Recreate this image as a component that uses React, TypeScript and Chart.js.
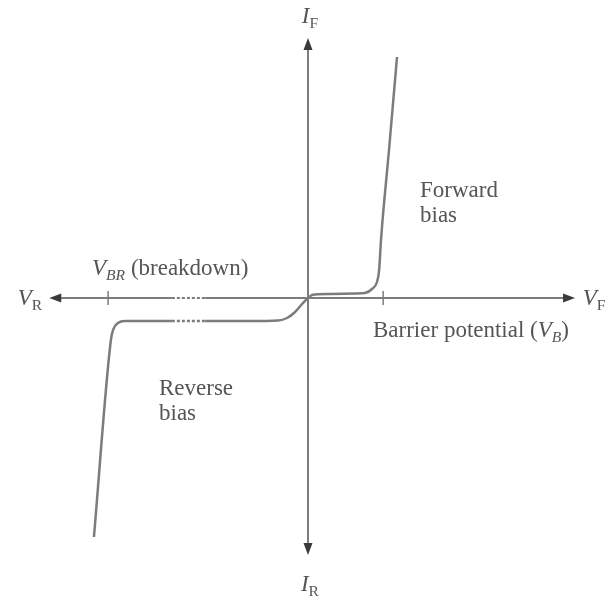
import React, { useEffect, useRef } from "react";
import { Chart, registerables } from "chart.js";
Chart.register(...registerables);

// Forward-bias branch (V_F, I_F) in arbitrary units
const forwardV = [0, 0.13, 0.71, 1.53, 1.85, 2.08, 2.24, 2.31, 2.37, 2.63, 2.89];
const forwardI = [0, 0.3, 0.4, 0.45, 0.5, 0.9, 1.6, 2.8, 5.8, 14.8, 24.1];
// Reverse-bias branch (ascending V)
const reverseV = [-6.95, -6.4, -6.33, -6.17, -5.94, -4.42, -3.34, -1.88, -0.97, -0.68, -0.42, -0.19, 0];
const reverseI = [-23.9, -4.2, -3.2, -2.5, -2.3, -2.3, -2.3, -2.3, -2.25, -2.0, -1.4, -0.6, 0];
// Dotted (broken) region on the reverse side
const brokenRange = [-4.42, -3.34];
const barrierV = 2.44;
const breakdownV = -6.49;
const axisXRange = [-8.4, 8.67];
const axisYRange = [-25.7, 26.0];

const LINE = "#7c7c7c";
const ARROW = "#3a3a3a";
const TEXT = "#555555";
const FONT = "'Liberation Serif', 'DejaVu Serif', serif";

type Part = { t: string; italic?: boolean; sub?: boolean };

function richWidth(ctx: CanvasRenderingContext2D, parts: Part[], size: number) {
  let w = 0;
  for (const p of parts) {
    const s = p.sub ? size * 0.68 : size;
    ctx.font = `${p.italic ? "italic " : ""}${s}px ${FONT}`;
    w += ctx.measureText(p.t).width;
  }
  return w;
}

function drawRich(ctx: CanvasRenderingContext2D, parts: Part[], x: number, y: number, size: number, align: "left" | "center") {
  const w = richWidth(ctx, parts, size);
  let cx = align === "center" ? x - w / 2 : x;
  ctx.textBaseline = "alphabetic";
  ctx.textAlign = "left";
  ctx.fillStyle = TEXT;
  for (const p of parts) {
    const s = p.sub ? size * 0.68 : size;
    ctx.font = `${p.italic ? "italic " : ""}${s}px ${FONT}`;
    ctx.fillText(p.t, cx, p.sub ? y + size * 0.22 : y);
    cx += ctx.measureText(p.t).width;
  }
}

function arrow(ctx: CanvasRenderingContext2D, x: number, y: number, dir: "up" | "down" | "left" | "right") {
  const L = 12, H = 4.5;
  ctx.beginPath();
  if (dir === "up") { ctx.moveTo(x, y); ctx.lineTo(x - H, y + L); ctx.lineTo(x + H, y + L); }
  if (dir === "down") { ctx.moveTo(x, y); ctx.lineTo(x - H, y - L); ctx.lineTo(x + H, y - L); }
  if (dir === "left") { ctx.moveTo(x, y); ctx.lineTo(x + L, y - H); ctx.lineTo(x + L, y + H); }
  if (dir === "right") { ctx.moveTo(x, y); ctx.lineTo(x - L, y - H); ctx.lineTo(x - L, y + H); }
  ctx.closePath();
  ctx.fillStyle = ARROW;
  ctx.fill();
}

const diagramPlugin = {
  id: "diagram",
  beforeDraw(chart: any) {
    const ctx = chart.ctx as CanvasRenderingContext2D;
    ctx.save();
    ctx.fillStyle = "#ffffff";
    ctx.fillRect(0, 0, chart.width, chart.height);
    ctx.restore();
  },
  beforeDatasetsDraw(chart: any) {
    const ctx = chart.ctx as CanvasRenderingContext2D;
    const xs = chart.scales.x, ys = chart.scales.y;
    const x0 = xs.getPixelForValue(0), y0 = ys.getPixelForValue(0);
    const xl = xs.getPixelForValue(axisXRange[0]), xr = xs.getPixelForValue(axisXRange[1]);
    const yt = ys.getPixelForValue(axisYRange[1]), yb = ys.getPixelForValue(axisYRange[0]);
    const g0 = xs.getPixelForValue(brokenRange[0]), g1 = xs.getPixelForValue(brokenRange[1]);
    ctx.save();
    ctx.strokeStyle = LINE;
    ctx.lineWidth = 2;
    // horizontal axis, with a dotted break
    ctx.beginPath(); ctx.moveTo(xl + 8, y0); ctx.lineTo(g0, y0); ctx.moveTo(g1, y0); ctx.lineTo(xr - 8, y0); ctx.stroke();
    ctx.setLineDash([3, 2]);
    ctx.beginPath(); ctx.moveTo(g0, y0); ctx.lineTo(g1, y0); ctx.stroke();
    ctx.setLineDash([]);
    // vertical axis
    ctx.beginPath(); ctx.moveTo(x0, yt + 8); ctx.lineTo(x0, yb - 8); ctx.stroke();
    // ticks
    ctx.lineWidth = 1.5;
    for (const v of [barrierV, breakdownV]) {
      const px = xs.getPixelForValue(v);
      ctx.beginPath(); ctx.moveTo(px, y0 - 7); ctx.lineTo(px, y0 + 7); ctx.stroke();
    }
    arrow(ctx, xl, y0, "left");
    arrow(ctx, xr, y0, "right");
    arrow(ctx, x0, yt, "up");
    arrow(ctx, x0, yb, "down");
    ctx.restore();
  },
  afterDraw(chart: any) {
    const ctx = chart.ctx as CanvasRenderingContext2D;
    const xs = chart.scales.x, ys = chart.scales.y;
    const x0 = xs.getPixelForValue(0), y0 = ys.getPixelForValue(0);
    const S = 23;
    ctx.save();
    drawRich(ctx, [{ t: "I", italic: true }, { t: "F", sub: true }], x0 + 2, 23, S, "center");
    drawRich(ctx, [{ t: "I", italic: true }, { t: "R", sub: true }], x0 + 2, 591, S, "center");
    drawRich(ctx, [{ t: "V", italic: true }, { t: "R", sub: true }], 30, y0 + 7, S, "center");
    drawRich(ctx, [{ t: "V", italic: true }, { t: "F", sub: true }], 594, y0 + 7, S, "center");
    drawRich(ctx, [{ t: "V", italic: true }, { t: "BR", italic: true, sub: true }, { t: " (breakdown)" }], 92, y0 - 23, S, "left");
    drawRich(ctx, [{ t: "Barrier potential (" }, { t: "V", italic: true }, { t: "B", italic: true, sub: true }, { t: ")" }], 373, y0 + 39, S, "left");
    drawRich(ctx, [{ t: "Forward" }], 420, 197, S, "left");
    drawRich(ctx, [{ t: "bias" }], 420, 222, S, "left");
    drawRich(ctx, [{ t: "Reverse" }], 159, 395, S, "left");
    drawRich(ctx, [{ t: "bias" }], 159, 420, S, "left");
    ctx.restore();
  },
};

export default function App() {
  const ref = useRef<HTMLCanvasElement | null>(null);
  useEffect(() => {
    if (!ref.current) return;
    const chart = new Chart(ref.current, {
      type: "line",
      data: {
        datasets: [
          {
            data: forwardV.map((v, i) => ({ x: v, y: forwardI[i] })),
            borderColor: LINE,
            borderWidth: 2.5,
            pointRadius: 0,
            cubicInterpolationMode: "monotone",
            fill: false,
          },
          {
            data: reverseV.map((v, i) => ({ x: v, y: reverseI[i] })),
            borderColor: LINE,
            borderWidth: 2.5,
            pointRadius: 0,
            cubicInterpolationMode: "monotone",
            fill: false,
            segment: {
              borderDash: (c: any) =>
                c.p0.parsed.x >= brokenRange[0] - 1e-6 && c.p1.parsed.x <= brokenRange[1] + 1e-6 ? [3, 2] : undefined,
            },
          },
        ],
      },
      options: {
        responsive: false,
        animation: false,
        layout: { padding: 0 },
        plugins: { legend: { display: false }, tooltip: { enabled: false } },
        scales: {
          x: { type: "linear", min: -10, max: 10, display: false },
          y: { type: "linear", min: -30.3, max: 29.8, display: false },
        },
      },
      plugins: [diagramPlugin],
    } as any);
    return () => chart.destroy();
  }, []);
  return (
    <div style={{ position: "absolute", left: 0, top: 0, width: 616, height: 601 }}>
      <canvas ref={ref} width={616} height={601} style={{ display: "block" }} />
    </div>
  );
}
